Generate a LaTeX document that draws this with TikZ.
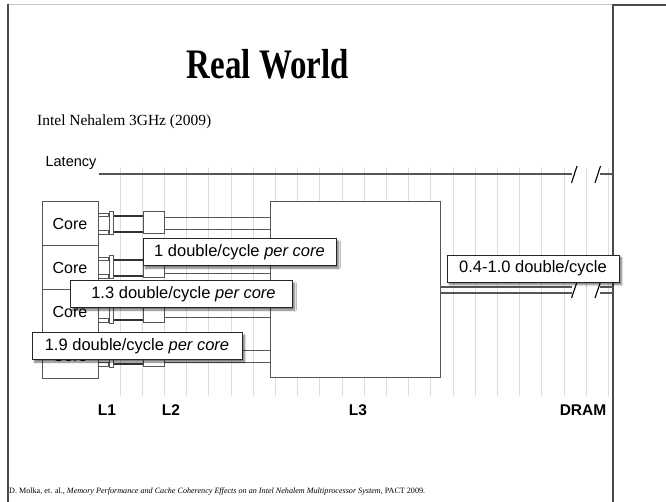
\documentclass[tikz,border=0pt]{standalone}
\usepackage{fontspec}
\setmainfont{Liberation Serif}
\setsansfont{Liberation Sans}
\usetikzlibrary{shadows.blur}
\definecolor{ln}{HTML}{555555}
\definecolor{gridc}{HTML}{DCDCDC}
\definecolor{framec}{HTML}{4A4A4A}
\begin{document}
\begin{tikzpicture}[x=1pt,y=-1pt,
  box/.style={draw=ln, line width=1pt, fill=white, inner sep=0pt},
  corebox/.style={box, minimum width=56pt, minimum height=44pt, font=\sffamily\fontsize{16}{18}\selectfont},
  lbl/.style={draw=black!85, fill=white, line width=0.9pt, inner sep=0pt, minimum height=27pt,
     blur shadow={shadow xshift=2.5pt, shadow yshift=-2.5pt, shadow opacity=55, shadow blur steps=6},
     font=\sffamily\fontsize{16.5}{18}\selectfont},
  axlbl/.style={font=\sffamily\bfseries\fontsize{15.5}{18}\selectfont},
  rail/.style={draw=ln, line width=0.7pt, fill=white},
  bus/.style={draw=black!80, line width=2pt},
  thin/.style={draw=ln, line width=1pt},
  gridline/.style={draw=gridc, line width=0.8pt},
  latline/.style={draw=ln, line width=1.6pt},
  brk/.style={draw=black, line width=1.1pt}
]
\useasboundingbox (0,0) rectangle (666,502);
% frame
\draw[draw=black!22, line width=0.8pt] (8,4) -- (613,4);
\draw[draw=framec, line width=1.3pt] (8,4) -- (8,502);
\draw[draw=framec, line width=1.5pt] (613,502) -- (613,5) -- (666,5);

% title and subtitle
\node[anchor=base, inner sep=0pt] (title) at (268,79) {\scalebox{0.785}[1]{\fontsize{42}{48}\selectfont\bfseries Real World}};
\node[anchor=base west, inner sep=0pt] (sub) at (37,125.5) {\resizebox{174pt}{!}{\fontsize{17}{20}\selectfont Intel Nehalem 3GHz (2009)}};

% grid
\foreach \k in {0,...,22}{
  \draw[gridline] (120+22.2*\k,168) -- (120+22.2*\k,396);
}

% latency
\node[inner sep=0pt, font=\sffamily\fontsize{14.5}{16}\selectfont] (lat) at (71,163) {Latency};
\coordinate (latA) at (99,174);
\coordinate (latB) at (572,174);
\coordinate (latC) at (600,174);
\coordinate (latD) at (613,174);
\draw[latline] (latA) -- (latB);
\draw[latline] (latC) -- (latD);
\draw[brk] (571.5,183) -- (577,166);
\draw[brk] (595,183) -- (600.5,166);

% L3
\node[box, minimum width=170pt, minimum height=175pt] (l3) at (355,289.5) {};

% DRAM link
\coordinate (dram) at (613,290);
\draw[latline, line width=1.3pt] (l3.east |- 0,287) -- (572,287);
\draw[latline, line width=1.3pt] (l3.east |- 0,293) -- (572,293);
\draw[latline, line width=1.3pt] (600,287) -- (dram |- 0,287);
\draw[latline, line width=1.3pt] (600,293) -- (dram |- 0,293);
\draw[brk] (571.5,298) -- (577,282);
\draw[brk] (595,298) -- (600.5,282);

% cores, L1, L2
\foreach \i in {1,...,4}{
  \pgfmathsetmacro\cy{180+44*\i}
  \node[corebox] (core\i) at (70,\cy) {Core};
  \node[box, minimum width=4pt, minimum height=23pt] (la\i) at (111,\cy-0.5) {};
  \node[box, minimum width=21pt, minimum height=22pt] (lb\i) at (153.5,\cy-1) {};
  \draw[rail] (core\i.east |- 0,\cy-11) rectangle (la\i.west |- 0,\cy-7.5);
  \draw[rail] (core\i.east |- 0,\cy+6.5) rectangle (la\i.west |- 0,\cy+10);
  \draw[bus] (la\i.east |- 0,\cy-8) -- (lb\i.west |- 0,\cy-8);
  \draw[bus] (la\i.east |- 0,\cy+8) -- (lb\i.west |- 0,\cy+8);
  \draw[thin] (lb\i.east |- 0,\cy-6) -- (l3.west |- 0,\cy-6);
  \draw[thin] (lb\i.east |- 0,\cy+6) -- (l3.west |- 0,\cy+6);
}

% bandwidth labels
\node[lbl, minimum width=193pt] (bw1) at (239.5,252) {1 double/cycle \textit{per core}};
\node[lbl, minimum width=222pt] (bw2) at (181,294) {\hspace*{5pt}1.3 double/cycle \textit{per core}};
\node[lbl, minimum width=210pt] (bw3) at (137,346) {1.9 double/cycle \textit{per core}};
\node[lbl, minimum width=172pt] (bw4) at (533,268.5) {0.4-1.0 double/cycle};

% axis labels
\node[axlbl] (ax1) at (107,410) {L1};
\node[axlbl] (ax2) at (171,410) {L2};
\node[axlbl] (ax3) at (358,410) {L3};
\node[axlbl] (ax4) at (583,410) {DRAM};

% footer
\node[anchor=base west, inner sep=0pt] (foot) at (9,493) {\resizebox{416pt}{!}{\fontsize{8}{9}\selectfont D. Molka, et. al., \textit{Memory Performance and Cache Coherency Effects on an Intel Nehalem Multiprocessor System}, PACT 2009.}};
\end{tikzpicture}
\end{document}
